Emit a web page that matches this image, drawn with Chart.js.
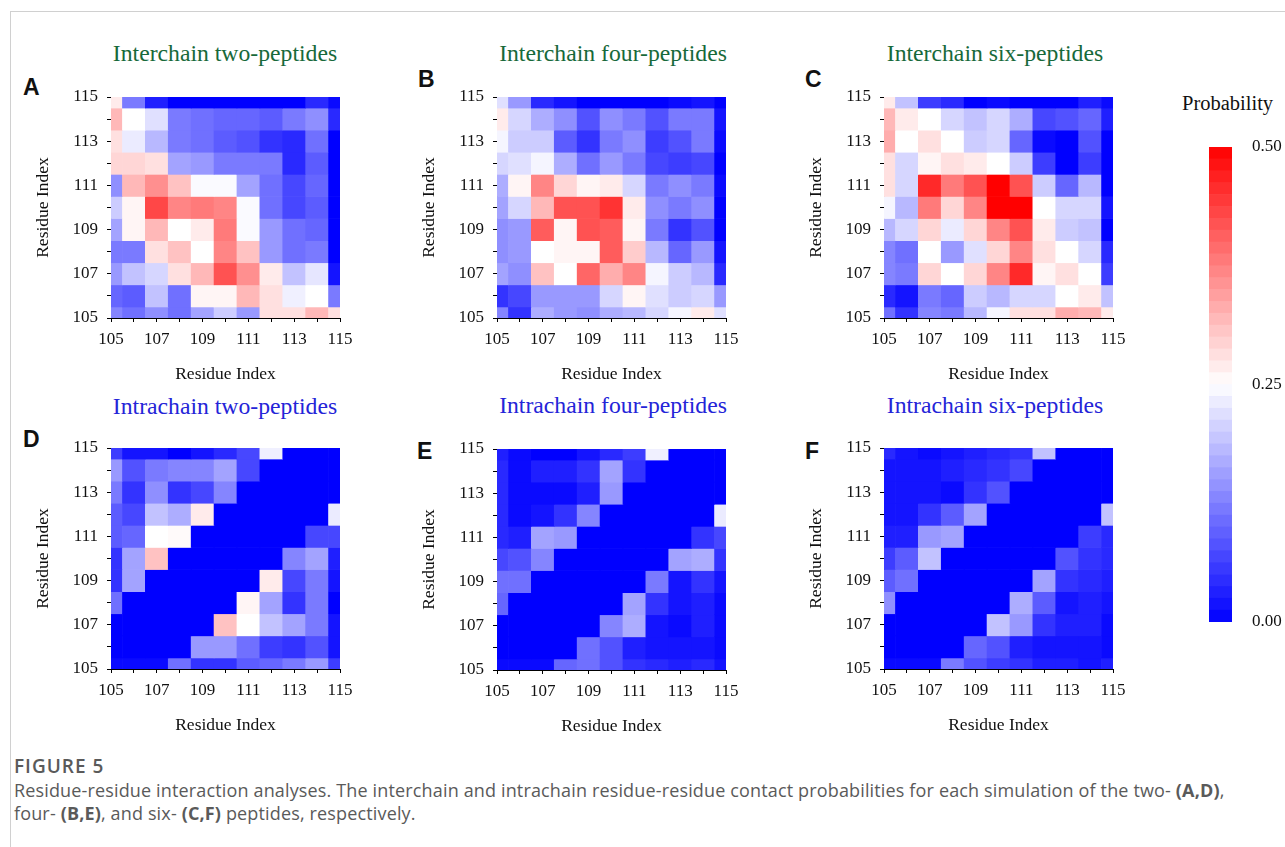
<!DOCTYPE html>
<html>
<head>
<meta charset="utf-8">
<script src="https://cdn.jsdelivr.net/npm/chart.js@4.4.1/dist/chart.umd.min.js"></script>
<style>
  body { margin: 0; width: 1285px; height: 847px; overflow: hidden; background: #fff; position: relative; }
  .frame { position: absolute; left: 10px; top: 11px; width: 1300px; height: 860px; border: 1px solid #d0d0d0; }
  .abs { position: absolute; }
  .ptitle { position: absolute; font-family: 'Liberation Serif', 'Times New Roman', serif; font-size: 23.7px; white-space: nowrap; transform: translate(-50%, -50%); }
  .inter { color: #17693a; }
  .intra { color: #2424d8; }
  .letter { position: absolute; font-family: 'Liberation Sans', Arial, sans-serif; font-weight: bold; font-size: 23px; color: #111; }
  .caption { position: absolute; left: 14px; font-family: 'Open Sans', sans-serif; color: #5a5a5a; font-size: 18px; line-height: 23px; letter-spacing: 0.15px; white-space: nowrap; }
</style>
</head>
<body>
<div class="frame"></div>

<div class="ptitle inter" style="left:225px; top:53px;">Interchain two-peptides</div>
<div class="ptitle inter" style="left:613px; top:53px;">Interchain four-peptides</div>
<div class="ptitle inter" style="left:995px; top:53px;">Interchain six-peptides</div>
<div class="ptitle intra" style="left:225px; top:406px;">Intrachain two-peptides</div>
<div class="ptitle intra" style="left:613px; top:405px;">Intrachain four-peptides</div>
<div class="ptitle intra" style="left:995px; top:405px;">Intrachain six-peptides</div>

<div class="letter" style="left:23px; top:74px;">A</div>
<div class="letter" style="left:418px; top:66px;">B</div>
<div class="letter" style="left:805px; top:66px;">C</div>
<div class="letter" style="left:23px; top:426px;">D</div>
<div class="letter" style="left:417px; top:438px;">E</div>
<div class="letter" style="left:805px; top:438px;">F</div>

<div class="abs" style="left:1182px; top:92px; font-family:'Liberation Serif','Times New Roman',serif; font-size:20.5px; color:#111;">Probability</div>

<canvas id="pA" class="abs" width="332" height="312"></canvas>
<canvas id="pB" class="abs" width="332" height="312"></canvas>
<canvas id="pC" class="abs" width="332" height="312"></canvas>
<canvas id="pD" class="abs" width="332" height="312"></canvas>
<canvas id="pE" class="abs" width="332" height="312"></canvas>
<canvas id="pF" class="abs" width="332" height="312"></canvas>
<canvas id="cbar" class="abs" width="76" height="521"></canvas>

<div class="caption" style="top:755px; font-weight:600; font-size:19px; letter-spacing:1px;">FIGURE 5</div>
<div class="caption" style="top:779px;">Residue-residue interaction analyses. The interchain and intrachain residue-residue contact probabilities for each simulation of the two- <b>(A,D)</b>,</div>
<div class="caption" style="top:802px;">four- <b>(B,E)</b>, and six- <b>(C,F)</b> peptides, respectively.</div>

<script>
// residues along both axes (columns left->right, rows bottom->top)
const residues = [105, 106, 107, 108, 109, 110, 111, 112, 113, 114, 115];

// contact probabilities, one row per residue from 115 (top) down to 105 (bottom)
const interTwo = [
  [0.27, 0.12, 0.03, 0.00, 0.00, 0.00, 0.00, 0.00, 0.00, 0.04, 0.01],
  [0.32, 0.25, 0.22, 0.12, 0.11, 0.10, 0.10, 0.09, 0.12, 0.14, 0.04],
  [0.28, 0.23, 0.18, 0.12, 0.11, 0.09, 0.08, 0.05, 0.04, 0.11, 0.00],
  [0.29, 0.29, 0.28, 0.16, 0.15, 0.12, 0.12, 0.12, 0.04, 0.09, 0.00],
  [0.14, 0.32, 0.36, 0.31, 0.245, 0.245, 0.16, 0.11, 0.07, 0.10, 0.00],
  [0.20, 0.26, 0.43, 0.37, 0.38, 0.37, 0.245, 0.11, 0.07, 0.09, 0.00],
  [0.16, 0.26, 0.32, 0.25, 0.27, 0.38, 0.245, 0.15, 0.11, 0.10, 0.00],
  [0.12, 0.12, 0.28, 0.31, 0.25, 0.37, 0.31, 0.15, 0.11, 0.12, 0.00],
  [0.15, 0.19, 0.21, 0.28, 0.32, 0.42, 0.36, 0.27, 0.19, 0.225, 0.02],
  [0.10, 0.09, 0.19, 0.11, 0.26, 0.26, 0.32, 0.28, 0.235, 0.25, 0.12],
  [0.13, 0.11, 0.14, 0.11, 0.16, 0.20, 0.15, 0.28, 0.28, 0.32, 0.28]
];
const interFour = [
  [0.22, 0.15, 0.04, 0.02, 0.00, 0.00, 0.00, 0.00, 0.01, 0.02, 0.00],
  [0.27, 0.21, 0.17, 0.14, 0.08, 0.14, 0.12, 0.08, 0.12, 0.12, 0.02],
  [0.24, 0.20, 0.20, 0.09, 0.05, 0.12, 0.14, 0.06, 0.08, 0.12, 0.01],
  [0.21, 0.22, 0.24, 0.17, 0.11, 0.15, 0.12, 0.07, 0.06, 0.07, 0.00],
  [0.17, 0.26, 0.37, 0.29, 0.26, 0.27, 0.21, 0.12, 0.14, 0.12, 0.01],
  [0.16, 0.21, 0.32, 0.42, 0.42, 0.45, 0.27, 0.14, 0.12, 0.14, 0.00],
  [0.14, 0.15, 0.41, 0.26, 0.42, 0.41, 0.26, 0.12, 0.05, 0.08, 0.00],
  [0.14, 0.15, 0.25, 0.26, 0.26, 0.41, 0.30, 0.18, 0.10, 0.15, 0.02],
  [0.16, 0.14, 0.31, 0.25, 0.40, 0.33, 0.37, 0.24, 0.20, 0.18, 0.04],
  [0.05, 0.07, 0.15, 0.15, 0.15, 0.21, 0.26, 0.22, 0.20, 0.21, 0.15],
  [0.13, 0.05, 0.17, 0.15, 0.14, 0.17, 0.18, 0.21, 0.24, 0.27, 0.22]
];
const interSix = [
  [0.27, 0.19, 0.06, 0.04, 0.00, 0.01, 0.00, 0.00, 0.00, 0.03, 0.01],
  [0.32, 0.27, 0.25, 0.21, 0.19, 0.21, 0.17, 0.07, 0.08, 0.10, 0.03],
  [0.33, 0.25, 0.28, 0.25, 0.20, 0.21, 0.10, 0.01, 0.00, 0.08, 0.00],
  [0.28, 0.21, 0.26, 0.28, 0.27, 0.25, 0.20, 0.06, 0.00, 0.06, 0.00],
  [0.28, 0.21, 0.46, 0.38, 0.42, 0.50, 0.42, 0.20, 0.10, 0.18, 0.00],
  [0.24, 0.18, 0.38, 0.29, 0.37, 0.50, 0.50, 0.25, 0.21, 0.21, 0.02],
  [0.18, 0.21, 0.29, 0.23, 0.29, 0.37, 0.42, 0.27, 0.20, 0.19, 0.00],
  [0.13, 0.11, 0.25, 0.15, 0.22, 0.29, 0.37, 0.28, 0.25, 0.21, 0.04],
  [0.13, 0.12, 0.29, 0.25, 0.29, 0.37, 0.46, 0.26, 0.28, 0.25, 0.06],
  [0.04, 0.02, 0.12, 0.10, 0.20, 0.18, 0.21, 0.21, 0.25, 0.27, 0.19],
  [0.11, 0.05, 0.13, 0.12, 0.18, 0.24, 0.28, 0.28, 0.33, 0.32, 0.27]
];
const intraTwo = [
  [0.06, 0.02, 0.02, 0.00, 0.02, 0.04, 0.07, 0.235, 0.00, 0.00, 0.00],
  [0.15, 0.08, 0.12, 0.13, 0.13, 0.16, 0.07, 0.00, 0.00, 0.00, 0.00],
  [0.12, 0.05, 0.14, 0.05, 0.07, 0.13, 0.00, 0.00, 0.00, 0.00, 0.00],
  [0.09, 0.07, 0.19, 0.17, 0.27, 0.00, 0.00, 0.00, 0.00, 0.00, 0.23],
  [0.09, 0.10, 0.25, 0.255, 0.00, 0.00, 0.00, 0.00, 0.00, 0.07, 0.07],
  [0.05, 0.16, 0.31, 0.00, 0.00, 0.00, 0.00, 0.00, 0.13, 0.16, 0.03],
  [0.05, 0.16, 0.00, 0.00, 0.00, 0.00, 0.00, 0.27, 0.07, 0.12, 0.02],
  [0.11, 0.00, 0.00, 0.00, 0.00, 0.00, 0.26, 0.16, 0.05, 0.12, 0.00],
  [0.00, 0.00, 0.00, 0.00, 0.00, 0.31, 0.25, 0.19, 0.16, 0.12, 0.02],
  [0.00, 0.00, 0.00, 0.00, 0.15, 0.15, 0.11, 0.06, 0.05, 0.08, 0.02],
  [0.01, 0.01, 0.01, 0.11, 0.05, 0.05, 0.09, 0.10, 0.12, 0.15, 0.06]
];
const intraFour = [
  [0.03, 0.01, 0.00, 0.00, 0.02, 0.04, 0.06, 0.235, 0.00, 0.00, 0.00],
  [0.04, 0.01, 0.03, 0.03, 0.05, 0.16, 0.05, 0.00, 0.00, 0.00, 0.00],
  [0.04, 0.01, 0.01, 0.01, 0.03, 0.15, 0.00, 0.00, 0.00, 0.00, 0.00],
  [0.04, 0.01, 0.02, 0.05, 0.13, 0.00, 0.00, 0.00, 0.00, 0.00, 0.23],
  [0.04, 0.03, 0.16, 0.15, 0.00, 0.00, 0.00, 0.00, 0.00, 0.05, 0.07],
  [0.07, 0.08, 0.13, 0.00, 0.00, 0.00, 0.00, 0.00, 0.16, 0.17, 0.05],
  [0.11, 0.11, 0.00, 0.00, 0.00, 0.00, 0.00, 0.12, 0.02, 0.05, 0.02],
  [0.10, 0.00, 0.00, 0.00, 0.00, 0.00, 0.16, 0.05, 0.02, 0.03, 0.01],
  [0.00, 0.00, 0.00, 0.00, 0.00, 0.13, 0.17, 0.02, 0.01, 0.03, 0.01],
  [0.00, 0.00, 0.00, 0.00, 0.11, 0.08, 0.03, 0.02, 0.02, 0.02, 0.01],
  [0.01, 0.01, 0.01, 0.10, 0.11, 0.08, 0.05, 0.04, 0.03, 0.04, 0.02]
];
const intraSix = [
  [0.04, 0.02, 0.01, 0.02, 0.03, 0.04, 0.05, 0.19, 0.00, 0.00, 0.00],
  [0.02, 0.02, 0.02, 0.03, 0.04, 0.05, 0.07, 0.00, 0.00, 0.00, 0.00],
  [0.02, 0.02, 0.02, 0.01, 0.05, 0.08, 0.00, 0.00, 0.00, 0.00, 0.00],
  [0.02, 0.02, 0.05, 0.09, 0.16, 0.00, 0.00, 0.00, 0.00, 0.00, 0.19],
  [0.03, 0.03, 0.15, 0.16, 0.00, 0.00, 0.00, 0.00, 0.00, 0.06, 0.04],
  [0.06, 0.09, 0.19, 0.00, 0.00, 0.00, 0.00, 0.00, 0.08, 0.05, 0.04],
  [0.09, 0.11, 0.00, 0.00, 0.00, 0.00, 0.00, 0.16, 0.05, 0.04, 0.03],
  [0.14, 0.00, 0.00, 0.00, 0.00, 0.00, 0.17, 0.09, 0.02, 0.03, 0.02],
  [0.00, 0.00, 0.00, 0.00, 0.00, 0.19, 0.15, 0.05, 0.03, 0.03, 0.01],
  [0.00, 0.00, 0.00, 0.00, 0.10, 0.08, 0.03, 0.02, 0.02, 0.02, 0.01],
  [0.01, 0.01, 0.01, 0.12, 0.08, 0.06, 0.05, 0.03, 0.03, 0.02, 0.03]
];

// colour scale ticks
const probTicks = [0, 0.25, 0.5];

const serif = "'Liberation Serif', 'Times New Roman', serif";

// blue (0) -> white (0.25) -> red (0.5)
function probColor(v) {
  const t = Math.max(0, Math.min(1, v / 0.5));
  let r, g, b;
  if (t < 0.5) {
    const k = t * 2;
    r = g = Math.round(255 * k);
    b = 255;
  } else {
    const k = (t - 0.5) * 2;
    r = 255;
    g = b = Math.round(255 * (1 - k));
  }
  return `rgb(${r},${g},${b})`;
}

function makePanel(id, areaLeft, areaTop, matrix) {
  const canvas = document.getElementById(id);
  // y axis box is 82px wide, top padding 20px (half label + tick padding)
  canvas.style.left = (areaLeft - 82) + "px";
  canvas.style.top = (areaTop - 20) + "px";

  const datasets = matrix.map((row, i) => {
    const res = residues[residues.length - 1 - i];
    return {
      data: residues.map(c => ({ x: c, y: [res - 0.5, res + 0.5] })),
      backgroundColor: row.map(probColor),
      borderWidth: 0,
      clip: 0
    };
  });

  const axisCommon = {
    type: "linear",
    min: 105,
    max: 115,
    offset: false,
    grid: { offset: false, drawOnChartArea: false, drawTicks: true, tickLength: 4, color: "#000" },
    border: { display: true, color: "#000", width: 1 },
    title: { display: true, text: "Residue Index", color: "#111", font: { family: serif, size: 17.5 }, padding: { top: 4, bottom: 4 } }
  };

  new Chart(canvas, {
    type: "bar",
    data: { datasets },
    options: {
      responsive: false,
      animation: false,
      events: [],
      layout: { padding: { top: 20, right: 21, left: 0, bottom: 0 } },
      datasets: { bar: { grouped: false, barPercentage: 1, categoryPercentage: 1 } },
      plugins: { legend: { display: false }, tooltip: { enabled: false } },
      scales: {
        x: Object.assign({}, axisCommon, {
          ticks: {
            stepSize: 1, autoSkip: false, maxRotation: 0, padding: 7,
            color: "#111", font: { family: serif, size: 17 },
            callback: v => (v % 2 === 1 ? String(v) : "")
          },
          afterFit: s => { s.height = 71; }
        }),
        y: Object.assign({}, axisCommon, {
          ticks: {
            stepSize: 1, autoSkip: false, padding: 9,
            color: "#111", font: { family: serif, size: 17 },
            callback: v => (v % 2 === 1 ? String(v) : "")
          },
          afterFit: s => { s.width = 82; }
        })
      }
    }
  });
}

makePanel("pA", 111, 97, interTwo);
makePanel("pB", 497, 97, interFour);
makePanel("pC", 884, 97, interSix);
makePanel("pD", 111, 448, intraTwo);
makePanel("pE", 497, 449, intraFour);
makePanel("pF", 884, 448, intraSix);

// colour bar: stacked bands from 0 to 0.5
function drawColorBar() {
  const canvas = document.getElementById("cbar");
  canvas.style.left = "1209px";
  canvas.style.top = "124px";
  const steps = 40;
  const band = 0.5 / steps;
  const datasets = [];
  for (let i = 0; i < steps; i++) {
    datasets.push({
      data: [band],
      backgroundColor: probColor((i + 0.5) * band),
      borderWidth: 0
    });
  }
  new Chart(canvas, {
    type: "bar",
    data: { labels: ["p"], datasets },
    options: {
      responsive: false,
      animation: false,
      events: [],
      layout: { padding: { top: 23, bottom: 23, left: 0, right: 0 } },
      datasets: { bar: { barPercentage: 1, categoryPercentage: 1 } },
      plugins: { legend: { display: false }, tooltip: { enabled: false } },
      scales: {
        x: { stacked: true, display: false },
        y: {
          stacked: true,
          position: "right",
          min: 0,
          max: 0.5,
          afterBuildTicks: s => { s.ticks = probTicks.map(v => ({ value: v })); },
          ticks: {
            padding: 12, color: "#111", font: { family: serif, size: 17 },
            callback: v => Number(v).toFixed(2)
          },
          grid: { display: false },
          border: { display: false },
          afterFit: s => { s.width = 53; }
        }
      }
    }
  });
}
drawColorBar();
</script>
</body>
</html>
